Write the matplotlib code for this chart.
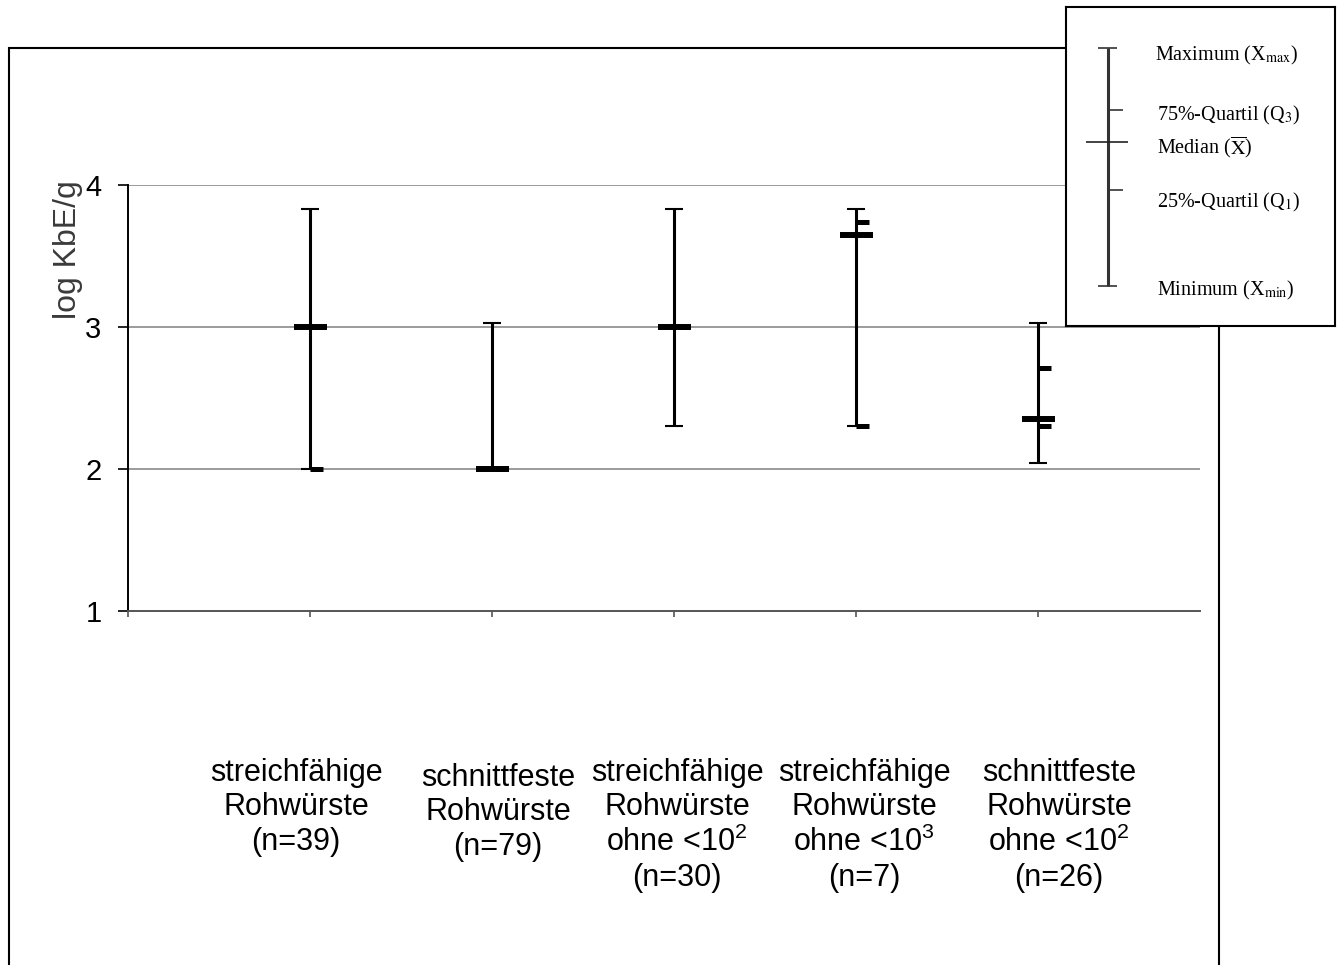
import matplotlib
matplotlib.use('Agg')
import matplotlib.pyplot as plt
from matplotlib.patches import Rectangle

plt.rcParams['font.family'] = ['Liberation Sans', 'DejaVu Sans']
plt.rcParams['mathtext.fontset'] = 'custom'
plt.rcParams['mathtext.rm'] = 'Liberation Sans'
plt.rcParams['mathtext.it'] = 'Liberation Sans:italic'
plt.rcParams['mathtext.bf'] = 'Liberation Sans:bold'

# categories and five-number summaries (log KbE/g)
categories = [
    'streichfähige\nRohwürste\n(n=39)',
    'schnittfeste\nRohwürste\n(n=79)',
    'streichfähige\nRohwürste\nohne <10$^2$\n(n=30)',
    'streichfähige\nRohwürste\nohne <10$^3$\n(n=7)',
    'schnittfeste\nRohwürste\nohne <10$^2$\n(n=26)',
]
maxima = [3.83, 3.03, 3.83, 3.83, 3.03]
q3 = [3.0, 2.0, 3.0, 3.74, 2.71]
medians = [3.0, 2.0, 3.0, 3.65, 2.35]
q1 = [2.0, 2.0, 3.0, 2.30, 2.30]
minima = [2.0, 2.0, 2.30, 2.30, 2.04]
yticks = [1, 2, 3, 4]

W, H = 1342, 965
fig = plt.figure(figsize=(W / 100, H / 100), dpi=100)

# outer chart frame
fig.add_artist(Rectangle((9 / W, -0.1), (1219 - 9) / W, 0.1 + 1 - 48 / H,
                         transform=fig.transFigure, fill=False,
                         edgecolor='black', lw=1.5, zorder=1))

ax = fig.add_axes([128 / W, 1 - 611 / H, (1200 - 128) / W, (611 - 185) / H])
xs = list(range(1, len(categories) + 1))
ax.set_xlim(0, 5.89)
ax.set_ylim(1, 4)
px = 5.89 / (1200 - 128)  # one pixel in x data units

ax.set_yticks(yticks)
ax.set_yticklabels([str(t) for t in yticks], fontsize=21)
ax.set_xticks([0] + xs)
ax.set_xticklabels([])
ax.tick_params(axis='y', direction='out', length=7, width=1.2, color='black', pad=12)
ax.tick_params(axis='x', direction='out', length=4, width=1.2, color='#555555')
for t in yticks[1:]:
    ax.axhline(t, color='#808080', lw=1.1, zorder=1)
for s in ['top', 'right']:
    ax.spines[s].set_visible(False)
ax.spines['left'].set_linewidth(1.4)
ax.spines['left'].set_color('black')
ax.spines['bottom'].set_linewidth(1.4)
ax.spines['bottom'].set_color('#555555')

# whiskers, caps, quartiles, medians
ax.vlines(xs, minima, maxima, color='black', lw=2.2, zorder=3)
for x, lo, hi, a, m, b in zip(xs, minima, maxima, q1, medians, q3):
    ax.hlines([lo, hi], x - 9 * px, x + 9 * px, color='black', lw=1.5, zorder=3)
    ax.hlines([a, b], x, x + 13 * px, color='black', lw=3.6, zorder=4)
    ax.hlines(m, x - 16 * px, x + 17 * px, color='black', lw=4.3, zorder=5)

# category labels
nudges = [-14, 6, 3, 8, 21]
tops = [-0.345, -0.357, -0.345, -0.345, -0.345]
for x, lab, dx, yt in zip(xs, categories, nudges, tops):
    ax.text(x + dx * px, yt, lab, transform=ax.get_xaxis_transform(),
            ha='center', va='top', fontsize=22, linespacing=1.19,
            multialignment='center')

fig.text(68 / W, 1 - 250 / H, 'log KbE/g', rotation=90, ha='center', va='center',
         fontsize=23, color='#3a3a3a')

# explanation box
lg = fig.add_axes([1066 / W, 1 - 326 / H, (1335 - 1066) / W, (326 - 7) / H], zorder=5)
lg.set_xlim(0, 269)
lg.set_ylim(319, 0)
lg.set_xticks([])
lg.set_yticks([])
for s in lg.spines.values():
    s.set_linewidth(1.5)
    s.set_color('black')
lg.vlines(42, 41, 279, color='#333333', lw=2.2)
lg.hlines([41, 279], 32, 51, color='#333333', lw=1.2)
lg.hlines([103, 183], 42, 57, color='#333333', lw=1.2)
lg.hlines(135, 20, 62, color='#222222', lw=1.2)
legend_texts = [
    (89, 48, 'Maximum (X$_{\\mathrm{max}}$)'),
    (91, 108, '75%-Quartil (Q$_3$)'),
    (91, 141, 'Median ($\\overline{\\mathrm{X}}$)'),
    (91, 195, '25%-Quartil (Q$_1$)'),
    (91, 283, 'Minimum (X$_{\\mathrm{min}}$)'),
]
for x, y, s in legend_texts:
    lg.text(x, y, s, ha='left', va='center', fontsize=14.5,
            family=['Liberation Serif', 'DejaVu Serif'], math_fontfamily='stix')

fig.savefig('out.png', dpi=100)
